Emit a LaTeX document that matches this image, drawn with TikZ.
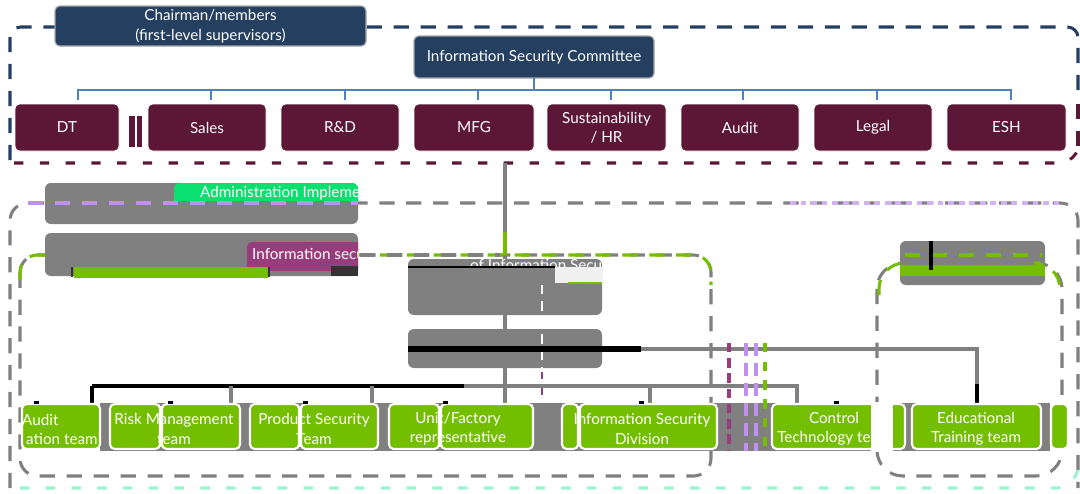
\documentclass[tikz,border=0pt]{standalone}
\usepackage{fontspec}
\setmainfont{Lato}
\definecolor{navy}{HTML}{243F60}
\definecolor{maroon}{HTML}{5C1737}
\definecolor{lineblue}{HTML}{4F81BD}
\definecolor{midgray}{HTML}{808080}
\definecolor{leaf}{HTML}{74BE00}
\definecolor{mint}{HTML}{99F5CC}
\definecolor{lav}{HTML}{C090F0}
\definecolor{brightgreen}{HTML}{0AE070}
\definecolor{plum}{HTML}{983D7B}
\newcommand\bx[7]{\node[#2, anchor=north west, inner sep=0pt, outer sep=0pt, minimum width={(#5-#3)*0.03cm}, minimum height={(#6-#4)*0.03cm}] (#1) at (#3,#4) {#7};}
\tikzset{
  txt/.style={text=white, align=center, font=\fontsize{13}{16.5}\selectfont},
  navybox/.style={fill=navy, draw=gray!70, line width=1pt, rounded corners=4pt, txt},
  maroonbox/.style={fill=maroon, draw=white, line width=0.6pt, rounded corners=4pt, txt},
  graybox/.style={fill=midgray, rounded corners=5pt},
  leafbox/.style={fill=leaf, draw=white, line width=1.8pt, rounded corners=4pt},
  frame/.style={line width=2.6pt, dash pattern=on 13pt off 10pt},
  shortdash/.style={line width=2.6pt, dash pattern=on 8pt off 14pt},
  blueline/.style={draw=lineblue, line width=1.8pt},
  grayline/.style={draw=midgray, line width=2.6pt},
  blackline/.style={draw=black, line width=2.6pt},
}
\begin{document}
\begin{tikzpicture}[x=0.03cm, y=-0.03cm]
\useasboundingbox (0,0) rectangle (1080,493);
\fill[white] (0,0) rectangle (1080,493);

% ---------- top frame ----------
\draw[frame, navy, rounded corners=9pt] (10,160) -- (10,27) -- (1078,27) -- (1078,100);
\draw[frame, maroon] (1078,104) -- (1078,150);
\draw[shortdash, maroon, rounded corners=9pt] (14,163) -- (1070,163) -- (1078,150);

\bx{chair}{navybox}{55}{6}{366}{46}{Chairman/members\\[1pt](first-level supervisors)}
\bx{com}{navybox}{414}{36}{654}{78}{Information Security Committee}

\bx{dt}{maroonbox}{15}{104}{119}{151}{DT}
\bx{sales}{maroonbox}{148}{104}{266}{151}{Sales}
\bx{rd}{maroonbox}{281}{104}{399}{151}{R\&D}
\bx{mfg}{maroonbox}{414}{104}{534}{151}{MFG}
\bx{sust}{maroonbox}{547}{104}{666}{151}{Sustainability\\/ HR}
\bx{audit}{maroonbox}{681}{104}{799}{151}{Audit}
\bx{legal}{maroonbox}{814}{104}{932}{151}{Legal}
\bx{esh}{maroonbox}{947}{104}{1066}{151}{ESH}

\coordinate (b1) at (78,90);  \coordinate (b2) at (211,90);
\coordinate (b3) at (345,90); \coordinate (b4) at (478,90);
\coordinate (b5) at (611,90); \coordinate (b6) at (743,90);
\coordinate (b7) at (877,90); \coordinate (b8) at (1011,90);
\draw[blueline] (com.south) -- (com.south |- b1);
\draw[blueline] (b1 |- dt.north) ++(0,-4) -- (b1) -- (b8) -- ++(0,10);
\foreach \b/\n in {b2/sales,b3/rd,b4/mfg,b5/sust,b6/audit,b7/legal}
  \draw[blueline] (\b) -- ++(0,10);
\fill[maroon] (129,116) rectangle (135,147);
\fill[maroon] (137,116) rectangle (142,147);

% ---------- middle ----------
\bx{adm}{graybox}{45}{183}{358}{224}{}
\begin{scope}
  \clip (174,183) rectangle (358,200);
  \fill[brightgreen, rounded corners=5pt] (174,183) rectangle (358,215);
  \node[txt, anchor=west, inner sep=0pt] (admtext) at (200,193) {Administration Implementation};
\end{scope}

% outer gray frame
\draw[frame, midgray, rounded corners=15pt] (10,488) -- (10,203) -- (1078,203) -- (1078,488);
\draw[frame, lav, line width=2.8pt] (28,203) -- (358,203);
\draw[line width=2.6pt, lav!70, dash pattern=on 5pt off 4pt] (790,203) -- (1060,203);
\draw[shortdash, mint, rounded corners=12pt] (20,488) -- (1070,488) -- (1078,470);

% green frame
\draw[frame, midgray, rounded corners=15pt] (20,255) rectangle (711,476);
\draw[frame, leaf, rounded corners=15pt] (20,280) -- (20,255) -- (711,255) -- (711,285);
\draw[frame, midgray] (360,255) -- (500,255);

\bx{sec}{graybox}{45}{233}{358}{276}{}
\begin{scope}
  \clip (247,242) rectangle (358,270);
  \fill[plum, rounded corners=4pt] (247,242) rectangle (370,280);
  \node[txt, anchor=west, inner sep=0pt] (sectext) at (252,255) {Information security};
\end{scope}
\fill[black!80] (331,266) rectangle (358,276);
\draw[leaf, fill=leaf, line width=0.8pt] (74,267) rectangle (267,277);
\draw[black!80, line width=1.2pt] (72,267) -- (72,277) (269,267) -- (269,277);

% right frame and box
\draw[frame, midgray, rounded corners=22pt] (877,263) rectangle (1062,476);
\bx{rbox}{graybox}{900}{241}{1045}{285}{}
\draw[frame, leaf] (905,255) -- (1042,255);
\fill[leaf] (900,265) rectangle (1045,276);
\draw[frame, leaf, rounded corners=22pt] (879,295) -- (879,263) -- (905,263);
\draw[frame, leaf, rounded corners=22pt] (1040,263) -- (1060,263) -- (1060,295);
\draw[blackline] (931,241) -- (931,270);

% center boxes
\draw[grayline] (505,163) -- (505,406);
\draw[draw=leaf, line width=2.6pt] (505,232) -- (505,255);
\bx{boxa}{graybox}{408}{259}{602}{315}{}
\begin{scope}
  \clip (408,255) rectangle (602,267);
  \node[txt, anchor=west, inner sep=0pt] (oftext) at (470,266) {of Information Security};
\end{scope}
\draw[black, line width=1.8pt] (408,267) -- (555,267);
\fill[gray!12] (555,267) rectangle (602,283);
\draw[leaf, line width=1.6pt] (568,283) -- (602,283);
\draw[grayline] (boxa.south) -- ++(0,14);
\bx{boxb}{graybox}{408}{329}{602}{368}{}
\draw[white, line width=2.4pt, dash pattern=on 8pt off 6pt] (542,285) -- (542,370);
\draw[plum, line width=2.4pt, dash pattern=on 6pt off 8pt] (542,372) -- (542,450);

\coordinate (et) at (977,349);
\draw[black, line width=4.5pt] (boxb.west |- et) -- (641,349);
\draw[grayline] (641,349) -- (et) -- (977,384);
\draw[blackline] (977,384) -- (977,404);

% ---------- bottom row ----------
\fill[midgray] (100,403) rectangle (1050,451);
\coordinate (c1) at (92,386);  \coordinate (c2) at (231,386);
\coordinate (c3) at (372,386); \coordinate (c4) at (505,386);
\coordinate (c5) at (650,386); \coordinate (c6) at (797,386);
\draw[blackline] (c1) -- ++(0,17);
\draw[blackline] (c1) -- (464,386);
\draw[grayline] (464,386) -- (c6) -- ++(0,17);
\foreach \c in {c2,c3,c5} \draw[grayline] (\c) -- ++(0,17);

\draw[plum, line width=2.8pt, dash pattern=on 8pt off 5pt] (729,343) -- (729,451);
\draw[lav, line width=2.8pt, dash pattern=on 11pt off 6pt] (746,343) -- (746,451);
\draw[lav, line width=2.8pt, dash pattern=on 11pt off 6pt] (756,343) -- (756,451);
\draw[leaf, line width=2.6pt, dash pattern=on 8pt off 8pt] (765,343) -- (765,451);

\bx{aud}{leafbox}{22}{404}{100}{449}{}
\bx{riska}{leafbox}{110}{404}{160}{449}{}
\bx{riskb}{leafbox}{162}{404}{240}{449}{}
\bx{proda}{leafbox}{250}{404}{299}{449}{}
\bx{prodb}{leafbox}{301}{404}{378}{449}{}
\bx{unita}{leafbox}{389}{404}{439}{449}{}
\bx{unitb}{leafbox}{441}{404}{533}{449}{}
\bx{isda}{leafbox}{562}{404}{578}{449}{}
\bx{isdb}{leafbox}{580}{404}{717}{449}{}
\bx{ctl}{leafbox}{772}{404}{905}{449}{}
\bx{edu}{leafbox}{912}{404}{1041}{449}{}
\bx{last}{leafbox}{1051}{404}{1068}{449}{}

\node[txt, anchor=west, inner sep=0pt] (audt1) at (22,420) {Audit};
\node[txt, anchor=west, inner sep=0pt] (audt2) at (26,439) {ation team};
\node[txt] (riskt) at (174,429) {Risk Management\\team};
\node[txt] (prodt) at (314,429) {Product Security\\Team};
\node[txt] (unitt) at (458,429) {Unit/Factory\\representative};
\node[txt] (isdt) at (642,429) {Information Security\\Division};
\node[txt] (ctlt) at (834,429) {Control\\Technology team};
\node[txt] (edut) at (976,429) {Educational\\Training team};
\fill[white] (871,402) rectangle (893,452);
\draw[white, line width=1.5pt] (160.9,406) -- (160.9,447) (300,406) -- (300,447) (440,406) -- (440,447) (579,406) -- (579,447);

\foreach \x in {36,170,305,445,641,836}
  \fill[black] (\x-2.5,401) rectangle (\x+2.5,404);
\end{tikzpicture}
\end{document}
